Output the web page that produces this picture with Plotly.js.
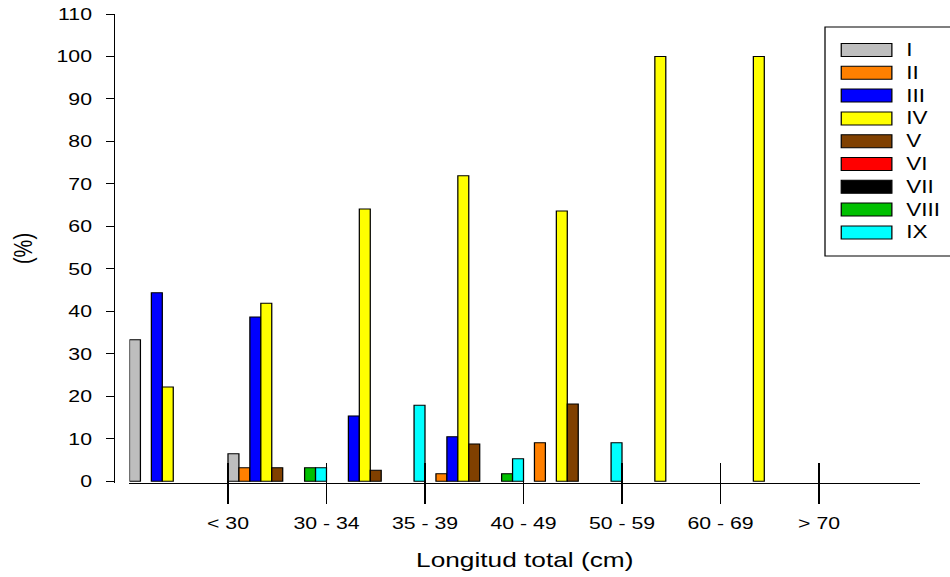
<!DOCTYPE html>
<html>
<head>
<meta charset="utf-8">
<script src="https://cdn.plot.ly/plotly-3.0.1.min.js"></script>
<style>
  html, body { margin: 0; padding: 0; overflow: hidden; background: #fff; }
  /* the figure is laid out narrow and widened horizontally, text included */
  #chart { width: 760px; height: 577px; transform: scaleX(1.25); transform-origin: 0 0; }
</style>
</head>
<body>
<div id="chart"></div>
<script>
// Length classes (cm) and the percentage of each stage within every class
const categories = ["< 30", "30 - 34", "35 - 39", "40 - 49", "50 - 59", "60 - 69", "> 70"];
const seriesNames = ["I", "II", "III", "IV", "V", "VI", "VII", "VIII", "IX"];
const seriesColors = ["#BEBEBE", "#FF8000", "#0000FF", "#FFFF00", "#804000",
                      "#FF0000", "#000000", "#00C000", "#00FFFF"];

const valuesI    = [33.3,  6.5,  0.0,  0.0,  0.0,   0.0,   0.0];
const valuesII   = [ 0.0,  3.2,  0.0,  1.8,  9.1,   0.0,   0.0];
const valuesIII  = [44.4, 38.7, 15.4, 10.5,  0.0,   0.0,   0.0];
const valuesIV   = [22.2, 41.9, 64.1, 71.9, 63.6, 100.0, 100.0];
const valuesV    = [ 0.0,  3.2,  2.6,  8.8, 18.2,   0.0,   0.0];
const valuesVI   = [ 0.0,  0.0,  0.0,  0.0,  0.0,   0.0,   0.0];
const valuesVII  = [ 0.0,  0.0,  0.0,  0.0,  0.0,   0.0,   0.0];
const valuesVIII = [ 0.0,  3.2,  0.0,  1.8,  0.0,   0.0,   0.0];
const valuesIX   = [ 0.0,  3.2, 17.9,  5.3,  9.1,   0.0,   0.0];

const yTicks = [0, 10, 20, 30, 40, 50, 60, 70, 80, 90, 100, 110];

const seriesValues = [valuesI, valuesII, valuesIII, valuesIV, valuesV,
                      valuesVI, valuesVII, valuesVIII, valuesIX];

// one group of bars per length class; class labels sit on the group's right edge
const groupIndex = categories.map((_, i) => i);
const labelPos = groupIndex.map(i => i + 0.5);

const FONT = "Liberation Sans, Arial, Helvetica, sans-serif";
const W = 760, H = 577;
const M = { l: 91, r: 24, t: 14, b: 94 };
const plotW = W - M.l - M.r, plotH = H - M.t - M.b;
const xDomain = [0.0195, 1];
const xRange = [-0.5, 7.525];

const traces = seriesNames.map((name, k) => ({
  type: "bar",
  name: name,
  x: groupIndex,
  // empty classes keep their slot but draw nothing
  y: seriesValues[k].map(v => (v === 0 ? null : v)),
  marker: { color: seriesColors[k], line: { color: "#000", width: 1 } },
  showlegend: false,
  hoverinfo: "skip"
}));
// carrier for the upper half of the class tick marks
traces.push({ type: "scatter", x: [], y: [], xaxis: "x2", yaxis: "y", showlegend: false, hoverinfo: "skip" });

// boxed key in the upper right corner
const px = v => (v - M.l) / plotW;
const py = v => (H - M.b - v) / plotH;
const key = { left: 660, top: 27, right: 764, bottom: 256,
              swL: 673, swR: 713.5, swH: 13, row0: 50, step: 22.8, textX: 723 };

const shapes = [{
  type: "rect", xref: "paper", yref: "paper",
  x0: px(key.left), x1: px(key.right), y0: py(key.bottom), y1: py(key.top),
  line: { color: "#000", width: 1 }, fillcolor: "rgba(0,0,0,0)"
}];
const annotations = [];
seriesNames.forEach((name, k) => {
  const cy = key.row0 + k * key.step;
  shapes.push({
    type: "rect", xref: "paper", yref: "paper",
    x0: px(key.swL), x1: px(key.swR), y0: py(cy + key.swH / 2), y1: py(cy - key.swH / 2),
    line: { color: "#000", width: 1 }, fillcolor: seriesColors[k]
  });
  annotations.push({
    xref: "paper", yref: "paper", x: px(key.textX), y: py(cy),
    xanchor: "left", yanchor: "middle", showarrow: false,
    text: name, font: { family: FONT, size: 18, color: "#000" }
  });
});

const layout = {
  width: W, height: H,
  margin: { l: M.l, r: M.r, t: M.t, b: M.b, pad: 0 },
  paper_bgcolor: "#fff", plot_bgcolor: "#fff",
  font: { family: FONT, size: 17, color: "#000" },
  barmode: "group", bargap: 0, bargroupgap: 0,
  showlegend: false,
  xaxis: {
    domain: xDomain, range: xRange, fixedrange: true,
    tickmode: "array", tickvals: labelPos, ticktext: categories,
    ticks: "outside", ticklen: 20, tickwidth: 1, tickcolor: "#000",
    ticklabelstandoff: 5,
    showline: true, linecolor: "#000", linewidth: 1,
    showgrid: false, zeroline: false,
    tickfont: { family: FONT, size: 17, color: "#000" },
    title: { text: "Longitud total (cm)", font: { family: FONT, size: 21, color: "#000" }, standoff: 19 }
  },
  xaxis2: {
    overlaying: "x", anchor: "y", domain: xDomain, range: xRange, fixedrange: true,
    tickmode: "array", tickvals: labelPos,
    ticks: "inside", ticklen: 20, tickwidth: 1, tickcolor: "#000",
    showticklabels: false, showline: false, showgrid: false, zeroline: false
  },
  yaxis: {
    anchor: "free", position: 0, range: [-0.4, 110], fixedrange: true,
    tickmode: "array", tickvals: yTicks,
    ticks: "outside", ticklen: 6, tickwidth: 1, tickcolor: "#000",
    ticklabelstandoff: 8,
    showline: true, linecolor: "#000", linewidth: 1,
    showgrid: false, zeroline: false,
    tickfont: { family: FONT, size: 17, color: "#000" },
    title: { text: "(%)", font: { family: FONT, size: 20, color: "#000" }, standoff: 12 }
  },
  shapes: shapes,
  annotations: annotations
};

Plotly.newPlot("chart", traces, layout, { displayModeBar: false, staticPlot: true });
</script>
</body>
</html>
